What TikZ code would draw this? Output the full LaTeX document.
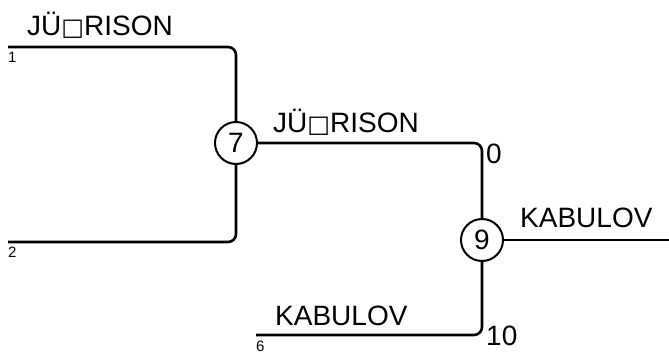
\documentclass[tikz,border=0pt]{standalone}
\usepackage{fontspec}
\setmainfont{Liberation Sans}
\newfontfamily\boxfont{DejaVu Sans}
\usetikzlibrary{positioning}

\tikzset{
  game/.style={circle,draw,line width=2pt,minimum size=42pt,inner sep=0pt,font=\fontsize{28}{28}\selectfont},
  wire/.style={line width=2.6pt,rounded corners=8pt},
  player/.style={anchor=base west,inner sep=0pt,font=\fontsize{28}{28}\selectfont},
  seedno/.style={anchor=base west,inner sep=0pt,font=\fontsize{15}{15}\selectfont},
  goals/.style={anchor=base west,inner sep=0pt,font=\fontsize{28}{28}\selectfont}
}
\newcommand{\nobox}{{\boxfont\fontsize{24}{24}\selectfont\raisebox{0pt}{□}}}

\begin{document}
\begin{tikzpicture}[x=1pt,y=-1pt]
\useasboundingbox (0,0) rectangle (669,353);
\node[game] (m7) at (236,143) {7};
\node[game] (m9) at (482,240) {9};
\coordinate (p1) at (8,47);
\coordinate (p2) at (8,242);
\coordinate (p6) at (256,335);
\coordinate (win) at (669,240);

\draw[wire] (p1) -| (m7);
\draw[wire] (p2) -| (m7);
\draw[wire] (m7) -| (m9);
\draw[wire] (p6) -| (m9);
\draw[wire] (m9) -- (win);

% names above the lines
\node[player] (n1) at (27,36) {JÜ\nobox RISON};
\node[player] (n7) at (273,132) {JÜ\nobox RISON};
\node[player] (n6) at (275,325) {KABULOV};
\node[player] (n9) at (520,227) {KABULOV};

% seeds
\node[seedno] (s1) at (8,63) {1};
\node[seedno] (s2) at (8,257) {2};
\node[seedno] (s6) at (256,351) {6};

% scores
\node[goals] (c0) at (486,163) {0};
\node[goals] (c10) at (486,345) {10};
\end{tikzpicture}
\end{document}
